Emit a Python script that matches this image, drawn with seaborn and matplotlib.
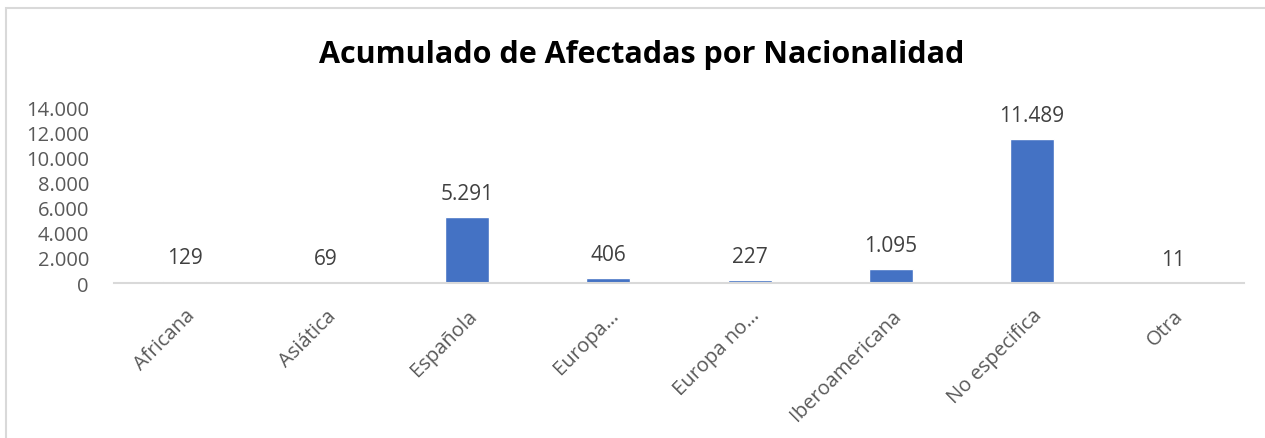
import matplotlib
matplotlib.use("Agg")
import matplotlib.pyplot as plt
import seaborn as sns
import pandas as pd
from matplotlib.patches import Rectangle

categories = ["Africana", "Asiática", "Española", "Europa…", "Europa no…",
              "Iberoamericana", "No especifica", "Otra"]
values = [129, 69, 5291, 406, 227, 1095, 11489, 11]
yticks = [0, 2000, 4000, 6000, 8000, 10000, 12000, 14000]
title = "Acumulado de Afectadas por Nacionalidad"

def fmt(v):
    return f"{v:,}".replace(",", ".")

sns.set_theme(style="white")
plt.rcParams['font.family'] = ['Open Sans', 'DejaVu Sans']

df = pd.DataFrame({"cat": categories, "val": values})

fig = plt.figure(figsize=(12.65, 4.39), dpi=100)
ax = fig.add_axes([0.0901, 0.353, 0.8933, 0.400])
sns.barplot(data=df, x="cat", y="val", color="#4472C4", width=0.31,
            saturation=1, ax=ax, zorder=2)

ax.set_xlim(-0.5, len(categories) - 0.5)
ax.set_ylim(0, 14000)
ax.set_yticks(yticks)
ax.set_yticklabels([fmt(t) for t in yticks], fontsize=14.5, color="#595959")
ax.set_xlabel("")
ax.set_ylabel("")
ax.tick_params(axis="y", length=0, pad=18)
ax.tick_params(axis="x", length=0, pad=16)
plt.setp(ax.get_xticklabels(), rotation=45, ha="right", rotation_mode="anchor",
         fontsize=14.5, color="#595959")
for s in ["top", "right", "left"]:
    ax.spines[s].set_visible(False)
ax.spines["bottom"].set_color("#D9D9D9")
ax.spines["bottom"].set_linewidth(1.5)
ax.spines["bottom"].set_zorder(3)

for p, v in zip(ax.patches, values):
    ax.annotate(fmt(v), (p.get_x() + p.get_width() / 2, p.get_height()),
                xytext=(0, 13), textcoords="offset points", ha="center",
                va="baseline", fontsize=15, color="#404040")

fig.text(0.507, 0.875, title, ha="center", va="center", fontsize=22,
         fontweight="bold", color="black")
fig.patches.append(Rectangle((6 / 1265, -0.05), 1.1, 1.05 - 9 / 439,
                             transform=fig.transFigure, fill=False,
                             edgecolor="#D9D9D9", linewidth=1.5, clip_on=False))
fig.savefig("out.png", dpi=100)
